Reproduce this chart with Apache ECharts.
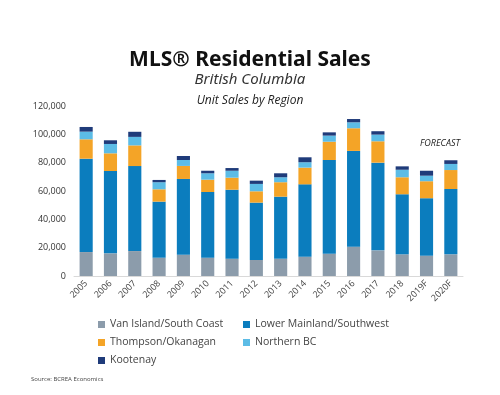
<!DOCTYPE html>
<html><head><meta charset="utf-8">
<script src="https://cdn.jsdelivr.net/npm/echarts@6/dist/echarts.min.js"></script>
<style>html,body{margin:0;padding:0;background:#fff}#c{width:500px;height:395px}</style>
</head><body><div id="c"></div>
<script>
const categories = ['2005','2006','2007','2008','2009','2010','2011','2012','2013','2014','2015','2016','2017','2018','2019F','2020F'];
const vanIsland = [16900,16000,17600,12900,15000,12900,12200,11300,12200,13600,15700,20700,18100,15300,14300,15300];
const lowerMainland = [65900,58100,60000,39600,53500,46400,48700,40500,43800,51100,66200,67600,61900,42400,40600,46100];
const thompson = [13700,12500,14600,8700,9200,8700,8500,8000,10200,11800,12900,16000,15100,12000,12000,13400];
const northernBC = [5400,6600,6000,5000,4200,4500,4900,5200,3500,3800,4300,4200,4700,5300,3900,4300];
const kootenay = [3300,2600,3600,1600,2800,1800,1900,2300,2800,3500,2300,2300,2400,2400,3500,2600];
const yTicks = [0,20000,40000,60000,80000,100000,120000];
const seriesNames = ['Van Island/South Coast','Lower Mainland/Southwest','Thompson/Okanagan','Northern BC','Kootenay'];
const seriesData = [vanIsland, lowerMainland, thompson, northernBC, kootenay];
const colors = ['#8c9cab','#0b7dbe','#f4a427','#5cbce6','#1f3b7a'];

const chart = echarts.init(document.getElementById('c'));
const legendPos = [[93,314],[238,314],[93,332],[238,332],[93,350]];
chart.setOption({
  animation:false,
  title:[
    {text:'MLS® Residential Sales',left:'center',top:45,textStyle:{fontFamily:'Noto Sans',fontWeight:'bold',fontSize:21,color:'#111'}},
    {text:'British Columbia',left:'center',top:67,textStyle:{fontFamily:'Noto Sans',fontStyle:'italic',fontWeight:'normal',fontSize:15,color:'#333'}},
    {text:'Unit Sales by Region',left:'center',top:90,textStyle:{fontFamily:'Open Sans',fontStyle:'italic',fontWeight:'normal',fontSize:12,color:'#222'}},
    {text:'FORECAST',left:415,top:134,textStyle:{fontFamily:'Open Sans',fontStyle:'italic',fontWeight:'normal',fontSize:9,color:'#222'}},
    {text:'Source: BCREA Economics',left:26,top:371,textStyle:{fontFamily:'Open Sans',fontWeight:'normal',fontSize:6,color:'#444'}}
  ],
  legend: seriesNames.map((n,i)=>({
    data:[n], left:legendPos[i][0], top:legendPos[i][1], itemWidth:7, itemHeight:7, itemGap:3,
    icon:'rect', textStyle:{fontFamily:'Open Sans',fontSize:10.5,color:'#444'}
  })),
  grid:{left:74,right:37,top:106,bottom:119,containLabel:false},
  xAxis:{type:'category',data:categories,
    axisLine:{show:true,lineStyle:{color:'#d9d9d9'}},axisTick:{show:false},
    axisLabel:{rotate:45,fontSize:9,color:'#444',fontFamily:'Open Sans',margin:6,interval:0}},
  yAxis:{type:'value',min:0,max:120000,interval:20000,
    splitLine:{show:false},axisLine:{show:false},axisTick:{show:false},
    axisLabel:{fontSize:9,color:'#333',fontFamily:'Open Sans',margin:8,
      formatter:v=>yTicks.includes(v)?v.toLocaleString('en-US'):''}},
  series: seriesNames.map((n,i)=>({
    name:n,type:'bar',stack:'total',barWidth:'54%',data:seriesData[i],
    itemStyle:{color:colors[i]}
  }))
});
</script></body></html>
